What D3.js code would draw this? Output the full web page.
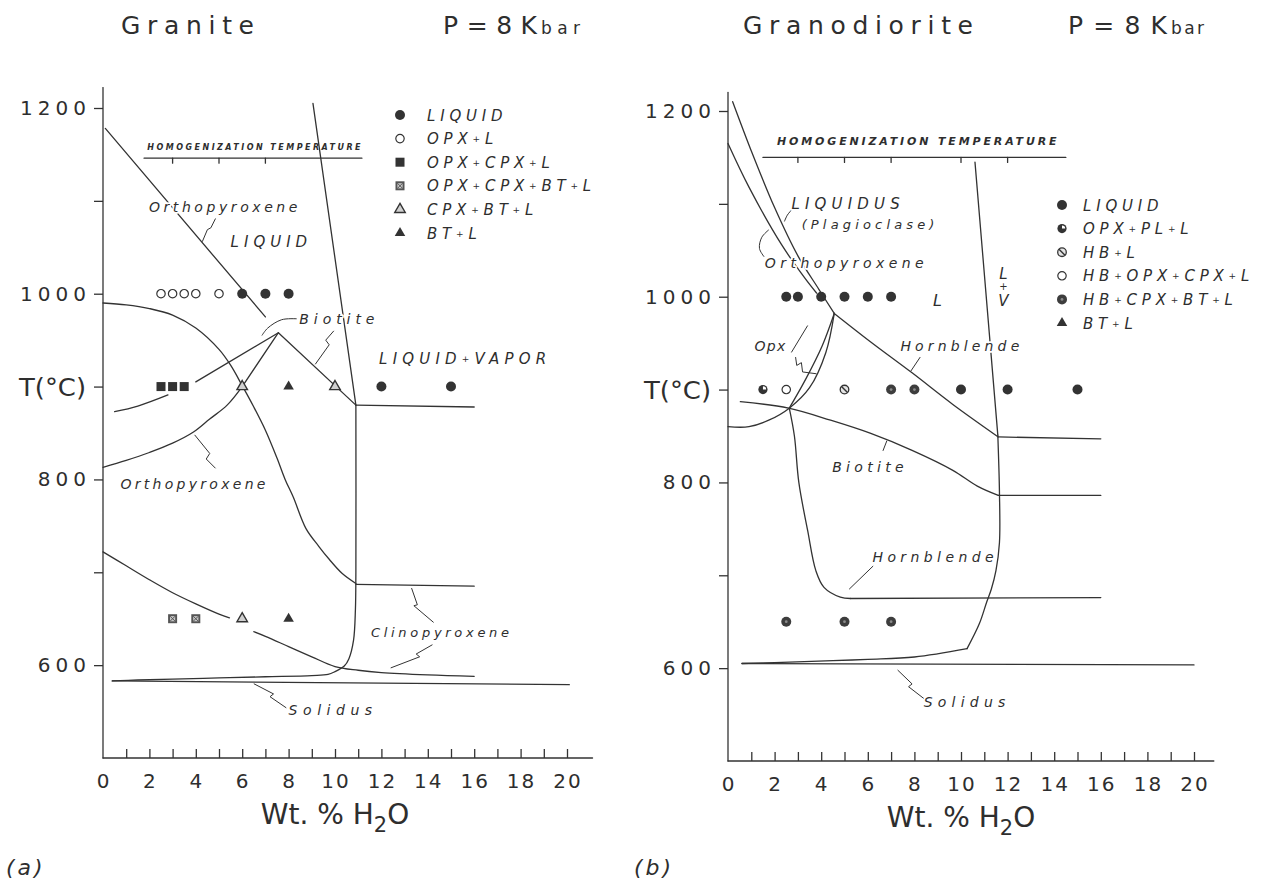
<!DOCTYPE html>
<html>
<head>
<meta charset="utf-8">
<script src="https://cdn.jsdelivr.net/npm/d3@7"></script>
<style>
  body { margin: 0; background: #fff; }
  svg { display: block; }
  text { font-family: "DejaVu Sans", sans-serif; fill: #2e2e2e; }
  .lbl { font-style: italic; }
  .ln { fill: none; stroke: #333; stroke-width: 1.3; stroke-linejoin: round; stroke-linecap: round; }
  .ldr { fill: none; stroke: #333; stroke-width: 1; }
</style>
</head>
<body>
<svg id="chart" width="1266" height="891"></svg>
<script>
// ---------- axes ----------
const xTickValues = d3.range(1, 21);
const xTickLabels = d3.range(0, 21, 2);
const yTickValues = [600, 700, 800, 900, 1000, 1100, 1200];
const yTickLabels = [600, 800, 1000, 1200];

// ---------- (a) Granite : lines (wt% H2O, T degC) ----------
const aOpxLiquidus = [[0.1, 1178], [7.0, 975]];
const aVaporTop = [[9.05, 1205], [10.9, 880]];
const aVaporFoot = [[10.9, 880], [10.9, 700], [10.88, 660], [10.8, 627], [10.6, 607], [10.4, 599], [10, 593],
                    [9.7, 590], [9, 588.8], [7, 587.5], [5, 586.2], [3, 585], [1.5, 584], [0.4, 583]];
const aVaporFlat = [[10.9, 880], [16, 878]];
const aOpxArc = [[0, 990], [1, 988], [2, 984], [3, 977], [4, 963], [5, 940], [5.5, 923], [6, 901], [6.5, 878],
                 [7, 853], [7.5, 823], [7.85, 800], [8.2, 781], [8.75, 747], [9.3, 728], [9.75, 714], [10.3, 699], [10.9, 688]];
const aOpxFlat = [[10.9, 687], [16, 685]];
const aOpxLower = [[0, 813], [1, 820.5], [2, 829], [3, 839], [3.9, 851], [4.6, 865], [5.35, 880], [6, 900]];
const aBiotiteApex = [[6, 900], [7.56, 958], [10.9, 880]];
const aBiotiteLeft = [[4.0, 905], [7.56, 958]];
const aBiotiteStub = [[0.5, 873], [1.5, 879], [2.8, 891]];
const aCpx = [[0, 722], [1, 707], [2, 692], [3, 678], [4, 666], [5, 655], [5.45, 651], null,
              [6.5, 636], [7, 631], [8, 620], [9, 609], [10, 598.5], [11, 594.5], [12, 592], [14, 589.5], [16, 588]];
const aSolidus = [[0.4, 583], [20.1, 579]];

// (a) experiments
const aLiquid = [[6, 1000], [7, 1000], [8, 1000], [12, 900], [15, 900]];
const aOpxL = [[2.5, 1000], [3, 1000], [3.5, 1000], [4, 1000], [5, 1000]];
const aOpxCpxL = [[2.5, 900], [3, 900], [3.5, 900]];
const aOpxCpxBtL = [[3, 650], [4, 650]];
const aCpxBtL = [[6, 900], [10, 900], [6, 650]];
const aBtL = [[8, 900], [8, 650]];

const aLegendLabels = ["LIQUID", "OPX+L", "OPX+CPX+L", "OPX+CPX+BT+L", "CPX+BT+L", "BT+L"];
const aLegendKinds = ["liquid", "opxL", "opxCpxL", "opxCpxBtL", "cpxBtL", "btL"];

// ---------- (b) Granodiorite : lines ----------
const bLiqPlag = [[0.2, 1210], [1, 1157], [2, 1096], [3, 1044], [3.9, 1008], [4.56, 982]];
const bLiqOpx = [[0, 1165], [0.9, 1118], [2.3, 1056], [3.3, 1020], [3.8, 1004]];
const bHbUpper = [[4.56, 982], [6.14, 951], [7.9, 918], [9.65, 884], [11.6, 849]];
const bHbFlat = [[11.6, 849], [16, 847]];
const bVaporTop = [[10.6, 1145], [11.58, 851]];
const bVaporFoot = [[11.58, 851], [11.65, 790], [11.65, 735], [11.5, 705], [11.3, 685], [11.1, 671], [10.79, 648], [10.26, 621]];
const bVaporTail = [[10.26, 621], [8, 612], [6, 609.5], [4.5, 608], [2, 606], [0.6, 605]];
const bBiotite = [[0.53, 887], [2.6, 880], [4.4, 867], [6.1, 853], [7.9, 834.5], [9.65, 813], [10.7, 796], [11.6, 786]];
const bBiotiteFlat = [[11.6, 786], [16, 786]];
const bOpxLoop = [[0, 860], [0.9, 860], [1.75, 867], [2.63, 880], [3.5, 902], [4.2, 940], [4.56, 982]];
const bHbLimbUpper = [[4.56, 982], [4.04, 947], [3.33, 911], [2.63, 880]];
const bHbLimbLower = [[2.63, 880], [2.85, 850], [3.04, 800], [3.42, 748], [3.77, 705], [4.12, 687], [4.82, 676.5], [5.26, 675]];
const bHbLowFlat = [[5.26, 675], [16, 676]];
const bSolidus = [[0.6, 605], [20, 603.5]];

// (b) experiments
const bLiquid = [[2.5, 1000], [3, 1000], [4, 1000], [5, 1000], [6, 1000], [7, 1000], [10, 900], [12, 900], [15, 900]];
const bOpxPlL = [[1.5, 900]];
const bHbL = [[5, 900]];
const bHbOpxCpxL = [[2.5, 900]];
const bHbCpxBtL = [[7, 900], [8, 900], [2.5, 650], [5, 650], [7, 650]];
const bBtL = [];

const bLegendLabels = ["LIQUID", "OPX+PL+L", "HB+L", "HB+OPX+CPX+L", "HB+CPX+BT+L", "BT+L"];
const bLegendKinds = ["liquid", "opxPlL", "hbL", "hbOpxCpxL", "hbCpxBtL", "btL"];

// ---------- annotations (text from x0 to x1 in wt%, centred on T) ----------
const aLabels = [
  { text: "Orthopyroxene", x0: 1.98, x1: 8.38, t: 1093, fs: 14 },
  { text: "LIQUID", x0: 5.5, x1: 8.8, t: 1056, fs: 15 },
  { text: "Biotite", x0: 8.46, x1: 11.7, t: 973, fs: 14 },
  { text: "LIQUID+VAPOR", x0: 11.9, x1: 19.1, t: 930, fs: 15 },
  { text: "Orthopyroxene", x0: 0.75, x1: 7.0, t: 795, fs: 14 },
  { text: "Clinopyroxene", x0: 11.55, x1: 17.5, t: 635, fs: 13 },
  { text: "Solidus", x0: 8.0, x1: 11.6, t: 551, fs: 14 }
];
const aLeaders = [
  { pts: [[4.85, 1081], [4.65, 1071], [4.5, 1069], [4.28, 1056]], smooth: false },
  { pts: [[8.35, 973], [7.7, 972], [7.1, 963], [6.85, 955]], smooth: true },
  { pts: [[9.95, 960], [9.6, 950], [9.75, 945], [9.15, 924]], smooth: false },
  { pts: [[4.85, 812], [4.45, 822], [4.6, 828], [3.95, 848]], smooth: false },
  { pts: [[13.3, 683], [13.55, 665], [13.4, 664], [14.25, 646]], smooth: false },
  { pts: [[14.2, 622], [13.5, 612], [13.65, 609], [12.4, 597]], smooth: false },
  { pts: [[7.9, 554], [7.2, 566], [7.35, 569], [6.5, 580]], smooth: false }
];

const bLabels = [
  { text: "LIQUIDUS", x0: 2.72, x1: 7.37, t: 1100, fs: 15 },
  { text: "(Plagioclase)", x0: 3.16, x1: 8.86, t: 1078, fs: 13 },
  { text: "Orthopyroxene", x0: 1.58, x1: 8.4, t: 1036, fs: 14 },
  { text: "L", x0: 8.8, x1: null, t: 996, fs: 16 },
  { text: "Opx", x0: 1.14, x1: 2.46, t: 947, fs: 14 },
  { text: "Hornblende", x0: 7.4, x1: 12.5, t: 947, fs: 14 },
  { text: "Biotite", x0: 4.47, x1: 7.54, t: 816, fs: 14 },
  { text: "Hornblende", x0: 6.2, x1: 11.4, t: 719, fs: 14 },
  { text: "Solidus", x0: 8.4, x1: 11.9, t: 563, fs: 14 }
];
// "L + V" written one above the other
const bStack = { x: 11.82, rows: [["L", 1025, 15], ["+", 1011, 10], ["V", 996, 15]] };
const bLeaders = [
  { pts: [[2.75, 1094], [2.55, 1088], [2.42, 1081]], smooth: true },
  { pts: [[1.55, 1043], [1.35, 1052], [1.45, 1064], [1.75, 1072]], smooth: true },
  { pts: [[2.72, 940], [3.42, 969]], smooth: false },
  { pts: [[2.9, 935], [2.95, 926], [3.15, 929], [3.2, 919], [3.8, 917]], smooth: false },
  { pts: [[8.25, 935], [7.85, 920]], smooth: false },
  { pts: [[6.65, 834], [6.82, 845]], smooth: false },
  { pts: [[6.23, 710], [5.2, 685]], smooth: false },
  { pts: [[8.42, 567], [7.75, 580], [7.9, 583], [7.28, 598]], smooth: false }
];

// ---------- drawing ----------
const svg = d3.select("#chart");
const ink = "#333";

function addRich(sel, str) {
  str.split(/(\+)/).forEach(function (part) {
    if (!part) return;
    const ts = sel.append("tspan").text(part);
    if (part === "+" && str.length > 1) ts.attr("font-size", "0.6em").attr("baseline-shift", "0.25em");
  });
}

function marker(g, kind, cx, cy) {
  const m = g.append("g").attr("transform", "translate(" + cx + "," + cy + ")");
  const tri = d3.symbol().type(d3.symbolTriangle).size(48)();
  if (kind === "liquid") {
    m.append("circle").attr("r", 5).attr("fill", ink);
  } else if (kind === "opxL" || kind === "hbOpxCpxL") {
    m.append("circle").attr("r", 4.2).attr("fill", "#fff").attr("stroke", ink).attr("stroke-width", 1.2);
  } else if (kind === "opxCpxL") {
    m.append("rect").attr("x", -4.5).attr("y", -4.5).attr("width", 9).attr("height", 9).attr("fill", ink);
  } else if (kind === "opxCpxBtL") {
    m.append("rect").attr("x", -4.5).attr("y", -4.5).attr("width", 9).attr("height", 9).attr("fill", "#555");
    m.append("rect").attr("x", -2.6).attr("y", -2.6).attr("width", 5.2).attr("height", 5.2).attr("fill", "#c8c8c8");
    m.append("path").attr("d", "M-2.6,-2.6L2.6,2.6M2.6,-2.6L-2.6,2.6").attr("stroke", "#555").attr("stroke-width", 1);
  } else if (kind === "cpxBtL") {
    m.append("path").attr("d", tri).attr("fill", "#d0d0d0").attr("stroke", ink).attr("stroke-width", 1.4);
  } else if (kind === "btL") {
    m.append("path").attr("d", tri).attr("fill", ink);
  } else if (kind === "opxPlL") {
    m.append("circle").attr("r", 4.6).attr("fill", ink);
    m.append("path").attr("d", d3.arc().innerRadius(0).outerRadius(3.2).startAngle(0).endAngle(Math.PI / 2)()).attr("fill", "#fff");
  } else if (kind === "hbL") {
    m.append("circle").attr("r", 4.3).attr("fill", "#e4e4e4").attr("stroke", ink).attr("stroke-width", 1.3);
    m.append("path").attr("d", "M-3,-3L3,3").attr("stroke", ink).attr("stroke-width", 1.4);
  } else if (kind === "hbCpxBtL") {
    m.append("circle").attr("r", 5).attr("fill", "#3d3d3d");
    m.append("circle").attr("r", 1.4).attr("fill", "#8a8a8a");
  }
}

function drawPanel(p) {
  const x = d3.scaleLinear().domain([0, 20]).range(p.xRange);
  const y = d3.scaleLinear().domain([500, 1200]).range(p.yRange);
  const g = svg.append("g");
  const straight = d3.line().defined(d => d != null).x(d => x(d[0])).y(d => y(d[1]));
  const smooth = d3.line().defined(d => d != null).x(d => x(d[0])).y(d => y(d[1])).curve(d3.curveCatmullRom.alpha(0.5));

  // axis lines
  g.append("line").attr("class", "ln")
    .attr("x1", x(0)).attr("x2", x(0)).attr("y1", y(500)).attr("y2", y(p.yTop));
  g.append("line").attr("class", "ln")
    .attr("x1", x(0)).attr("x2", x(p.xEnd)).attr("y1", y(500)).attr("y2", y(500));

  const xa = g.append("g").attr("transform", "translate(0," + y(500) + ")")
    .call(d3.axisBottom(x).tickValues(xTickValues).tickSize(-9).tickSizeOuter(0).tickFormat(""));
  xa.select(".domain").remove();
  xa.selectAll("line").attr("stroke", ink).attr("stroke-width", 1.3);
  g.selectAll(".xlab").data(xTickLabels).enter().append("text")
    .attr("x", d => x(d) + 1).attr("y", y(500) + 30)
    .attr("text-anchor", "middle").attr("font-size", 20).attr("letter-spacing", 2)
    .text(d => d);

  const ya = g.append("g").attr("transform", "translate(" + x(0) + ",0)")
    .call(d3.axisLeft(y).tickValues(yTickValues).tickSize(9).tickSizeOuter(0).tickFormat(""));
  ya.select(".domain").remove();
  ya.selectAll("line").attr("stroke", ink).attr("stroke-width", 1.3);
  g.selectAll(".ylab").data(yTickLabels).enter().append("text")
    .attr("x", x(0) - 12).attr("y", d => y(d) + 7)
    .attr("text-anchor", "end").attr("font-size", 20).attr("letter-spacing", 5)
    .text(d => d);

  g.append("text").attr("x", x(0) - 84).attr("y", y(900) + 9)
    .attr("font-size", 24).attr("textLength", 67).attr("lengthAdjust", "spacingAndGlyphs")
    .text("T(°C)");

  const xl = g.append("text").attr("x", x(10)).attr("y", y(500) + 66)
    .attr("text-anchor", "middle").attr("font-size", 28).text("Wt. % H");
  xl.append("tspan").attr("font-size", "0.75em").attr("dy", "0.4em").text("2");
  xl.append("tspan").attr("dy", "-0.3em").text("O");

  // titles
  g.append("text").attr("x", p.titleX).attr("y", 34).attr("font-size", 25)
    .attr("textLength", p.titleW).attr("lengthAdjust", "spacing").text(p.title);
  g.append("text").attr("x", p.pX).attr("y", 34).attr("font-size", 25)
    .attr("textLength", p.pW).attr("lengthAdjust", "spacing").text("P=8K");
  g.append("text").attr("x", p.barX).attr("y", 34).attr("font-size", 17)
    .attr("textLength", p.barW).attr("lengthAdjust", "spacing").text("bar");

  g.append("text").attr("class", "lbl").attr("x", p.tagX).attr("y", 875).attr("font-size", 22)
    .attr("letter-spacing", 3).text(p.tag);

  // homogenization temperature bar
  g.append("text").attr("class", "lbl").attr("font-weight", "bold")
    .attr("x", x(p.homog.x0)).attr("y", y(p.homog.t))
    .attr("font-size", p.homog.fs)
    .attr("textLength", x(p.homog.x1) - x(p.homog.x0)).attr("lengthAdjust", "spacing")
    .text("HOMOGENIZATION TEMPERATURE");
  g.append("path").attr("class", "ln").attr("stroke-width", 1.2)
    .attr("d", straight([[p.homog.l0, p.homog.lt], [p.homog.l1, p.homog.lt]]));
  p.homog.ticks.forEach(function (v) {
    g.append("line").attr("class", "ln").attr("stroke-width", 1.2)
      .attr("x1", x(v)).attr("x2", x(v)).attr("y1", y(p.homog.lt)).attr("y2", y(p.homog.lt) + 5);
  });

  // phase boundaries
  p.curves.forEach(function (c) {
    g.append("path").attr("class", "ln").attr("d", (c.smooth ? smooth : straight)(c.pts));
  });
  p.leaders.forEach(function (c) {
    g.append("path").attr("class", "ldr").attr("d", (c.smooth ? smooth : straight)(c.pts));
  });

  // field labels
  p.labels.forEach(function (a) {
    const t = g.append("text").attr("class", "lbl")
      .attr("x", x(a.x0)).attr("y", y(a.t)).attr("dy", "0.34em")
      .attr("font-size", a.fs)
      .attr("stroke", "#fff").attr("stroke-width", 3.5).attr("paint-order", "stroke").attr("stroke-linejoin", "round");
    if (a.x1 != null) t.attr("textLength", x(a.x1) - x(a.x0)).attr("lengthAdjust", "spacing");
    addRich(t, a.text);
  });
  if (p.stack) {
    const st = g.append("text").attr("class", "lbl").attr("text-anchor", "middle")
      .attr("stroke", "#fff").attr("stroke-width", 3).attr("paint-order", "stroke");
    p.stack.rows.forEach(function (r) {
      st.append("tspan").attr("x", x(p.stack.x)).attr("y", y(r[1]) + r[2] * 0.36)
        .attr("font-size", r[2]).text(r[0]);
    });
  }

  // experiments
  p.points.forEach(function (s) {
    s.pts.forEach(function (d) { marker(g, s.kind, x(d[0]), y(d[1])); });
  });

  // legend
  p.legendLabels.forEach(function (lab, i) {
    const ly = p.legY0 + i * 23.6;
    marker(g, p.legendKinds[i], p.legX, ly);
    const t = g.append("text").attr("class", "lbl").attr("x", p.legTextX).attr("y", ly + 5.5)
      .attr("font-size", 15).attr("letter-spacing", 4.8);
    addRich(t, lab);
  });
}

drawPanel({
  xRange: [103, 567], yRange: [758, 108], xEnd: 21.1, yTop: 1222,
  title: "Granite", titleX: 121, titleW: 133, pX: 443, pW: 94, barX: 541, barW: 39,
  tag: "(a)", tagX: 6,
  homog: { x0: 1.91, x1: 11.1, t: 1155, fs: 8, l0: 1.77, l1: 11.16, lt: 1146, ticks: [3, 5, 7] },
  curves: [
    { pts: aOpxLiquidus, smooth: false },
    { pts: aVaporTop, smooth: false },
    { pts: aVaporFoot, smooth: true },
    { pts: aVaporFlat, smooth: false },
    { pts: aOpxArc, smooth: true },
    { pts: aOpxFlat, smooth: false },
    { pts: aOpxLower, smooth: true },
    { pts: aBiotiteApex, smooth: false },
    { pts: aBiotiteLeft, smooth: false },
    { pts: aBiotiteStub, smooth: true },
    { pts: aCpx, smooth: true },
    { pts: aSolidus, smooth: false }
  ],
  leaders: aLeaders, labels: aLabels, stack: null,
  points: [
    { kind: "liquid", pts: aLiquid }, { kind: "opxL", pts: aOpxL }, { kind: "opxCpxL", pts: aOpxCpxL },
    { kind: "opxCpxBtL", pts: aOpxCpxBtL }, { kind: "cpxBtL", pts: aCpxBtL }, { kind: "btL", pts: aBtL }
  ],
  legendLabels: aLegendLabels, legendKinds: aLegendKinds, legX: 400, legTextX: 427, legY0: 115
});

drawPanel({
  xRange: [728, 1194], yRange: [761, 111], xEnd: 20.85, yTop: 1220,
  title: "Granodiorite", titleX: 743, titleW: 230, pX: 1068, pW: 99, barX: 1171, barW: 33,
  tag: "(b)", tagX: 634,
  homog: { x0: 2.1, x1: 14.1, t: 1163, fs: 11, l0: 1.5, l1: 14.5, lt: 1150, ticks: [3, 5, 7, 10, 12] },
  curves: [
    { pts: bLiqPlag, smooth: true },
    { pts: bLiqOpx, smooth: true },
    { pts: bHbUpper, smooth: true },
    { pts: bHbFlat, smooth: false },
    { pts: bVaporTop, smooth: false },
    { pts: bVaporFoot, smooth: true },
    { pts: bVaporTail, smooth: true },
    { pts: bBiotite, smooth: true },
    { pts: bBiotiteFlat, smooth: false },
    { pts: bOpxLoop, smooth: true },
    { pts: bHbLimbUpper, smooth: true },
    { pts: bHbLimbLower, smooth: true },
    { pts: bHbLowFlat, smooth: false },
    { pts: bSolidus, smooth: false }
  ],
  leaders: bLeaders, labels: bLabels, stack: bStack,
  points: [
    { kind: "liquid", pts: bLiquid }, { kind: "opxPlL", pts: bOpxPlL }, { kind: "hbL", pts: bHbL },
    { kind: "hbOpxCpxL", pts: bHbOpxCpxL }, { kind: "hbCpxBtL", pts: bHbCpxBtL }, { kind: "btL", pts: bBtL }
  ],
  legendLabels: bLegendLabels, legendKinds: bLegendKinds, legX: 1062, legTextX: 1083, legY0: 205
});
</script>
</body>
</html>
